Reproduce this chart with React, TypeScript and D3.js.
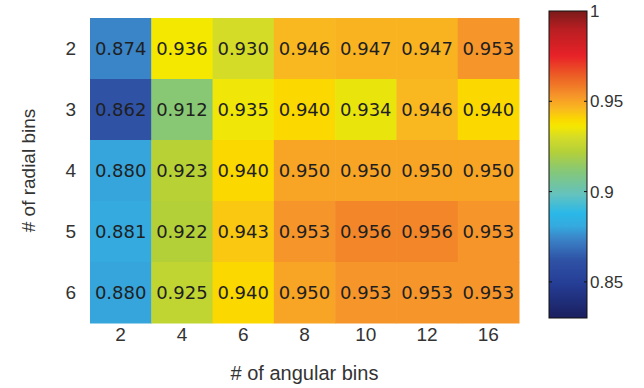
import React from "react";
import * as d3 from "d3";

// heatmap data
const angularBins = ["2", "4", "6", "8", "10", "12", "16"];
const radialBins = ["2", "3", "4", "5", "6"];
const row2 = [0.874, 0.936, 0.930, 0.946, 0.947, 0.947, 0.953];
const row3 = [0.862, 0.912, 0.935, 0.940, 0.934, 0.946, 0.940];
const row4 = [0.880, 0.923, 0.940, 0.950, 0.950, 0.950, 0.950];
const row5 = [0.881, 0.922, 0.943, 0.953, 0.956, 0.956, 0.953];
const row6 = [0.880, 0.925, 0.940, 0.950, 0.953, 0.953, 0.953];
const accuracy = [row2, row3, row4, row5, row6];

const colorbarTicks = [0.85, 0.9, 0.95, 1];
const colorRange = [0.83, 1];

// muted jet, sampled from the reference colorbar
const stopValues = [0.83, 0.85, 0.862, 0.874, 0.881, 0.888, 0.898, 0.912, 0.922, 0.93, 0.936, 0.94, 0.946, 0.95, 0.953, 0.956, 0.965, 0.975, 0.99, 1];
const stopColors = ["#1a1f5e", "#263f98", "#2f52a5", "#3a84c8", "#35aadf", "#2ab8e8", "#62c2c0", "#88c874", "#b4d038", "#d4dc28", "#f5e800", "#fad800", "#f9b820", "#f8a424", "#f6952a", "#f28628", "#ec5a25", "#e82228", "#b81e22", "#7a1a1a"];

const W = 644;
const H = 388;

export default function App() {
  const color = d3.scaleLinear<string>().domain(stopValues).range(stopColors).clamp(true);
  const x = d3.scaleBand().domain(angularBins).range([90, 519]);
  const y = d3.scaleBand().domain(radialBins).range([18, 323]);

  const cb = { x: 549, w: 38 };
  const cy = d3.scaleLinear().domain(colorRange).range([318, 11]);

  const cells = [];
  radialBins.forEach((r, i) => {
    angularBins.forEach((a, j) => {
      cells.push({ r, a, v: accuracy[i][j] });
    });
  });

  // gradient runs top (value 1) to bottom (0.83), offsets increasing
  const gradStops = d3.range(0, 101).map((k) => {
    const v = colorRange[1] - (colorRange[1] - colorRange[0]) * (k / 100);
    return { off: k, c: color(v) };
  });

  const labelColor = "#333";
  const font = "Liberation Sans, Arial, sans-serif";
  const cellFont = "DejaVu Sans, sans-serif";

  return (
    <div style={{ position: "fixed", left: 0, top: 0 }}>
      <svg width={W} height={H} style={{ display: "block", background: "#fff" }}>
        <defs>
          <linearGradient id="cbar" x1="0" y1="0" x2="0" y2="1">
            {gradStops.map((s, i) => (
              <stop key={i} offset={s.off + "%"} stopColor={s.c} />
            ))}
          </linearGradient>
        </defs>

        {cells.map((d, i) => (
          <rect
            key={i}
            x={x(d.a)}
            y={y(d.r)}
            width={x.bandwidth() + 0.5}
            height={y.bandwidth() + 0.5}
            fill={color(d.v)}
          />
        ))}
        {cells.map((d, i) => (
          <text
            key={"t" + i}
            x={x(d.a)! + x.bandwidth() / 2}
            y={y(d.r)! + y.bandwidth() / 2}
            dy="0.36em"
            textAnchor="middle"
            fontFamily={cellFont}
            fontSize={18}
            fill="#1f1f1f"
          >
            {d.v.toFixed(3)}
          </text>
        ))}

        {radialBins.map((r) => (
          <text
            key={"y" + r}
            x={76}
            y={y(r)! + y.bandwidth() / 2}
            dy="0.36em"
            textAnchor="end"
            fontFamily={font}
            fontSize={19}
            fill={labelColor}
          >
            {r}
          </text>
        ))}
        {angularBins.map((a) => (
          <text
            key={"x" + a}
            x={x(a)! + x.bandwidth() / 2}
            y={334}
            dy="0.36em"
            textAnchor="middle"
            fontFamily={font}
            fontSize={19}
            fill={labelColor}
          >
            {a}
          </text>
        ))}

        <text
          x={(90 + 519) / 2}
          y={373}
          dy="0.36em"
          textAnchor="middle"
          fontFamily={font}
          fontSize={20}
          fill={labelColor}
        >
          # of angular bins
        </text>
        <text
          transform={`translate(28,${(18 + 323) / 2}) rotate(-90)`}
          dy="0.36em"
          textAnchor="middle"
          fontFamily={font}
          fontSize={19}
          fill={labelColor}
        >
          # of radial bins
        </text>

        <rect x={cb.x} y={cy(1)} width={cb.w} height={cy(0.83) - cy(1)} fill="url(#cbar)" stroke="#111" strokeWidth={1} />
        {colorbarTicks.map((t) => (
          <g key={"c" + t}>
            {t < 1 && (
              <>
                <line x1={cb.x} x2={cb.x + 3} y1={cy(t)} y2={cy(t)} stroke="#111" />
                <line x1={cb.x + cb.w - 3} x2={cb.x + cb.w} y1={cy(t)} y2={cy(t)} stroke="#111" />
              </>
            )}
            <text
              x={cb.x + cb.w + 3}
              y={cy(t)}
              dy="0.36em"
              fontFamily={font}
              fontSize={17}
              fill={labelColor}
            >
              {String(t)}
            </text>
          </g>
        ))}
      </svg>
    </div>
  );
}
